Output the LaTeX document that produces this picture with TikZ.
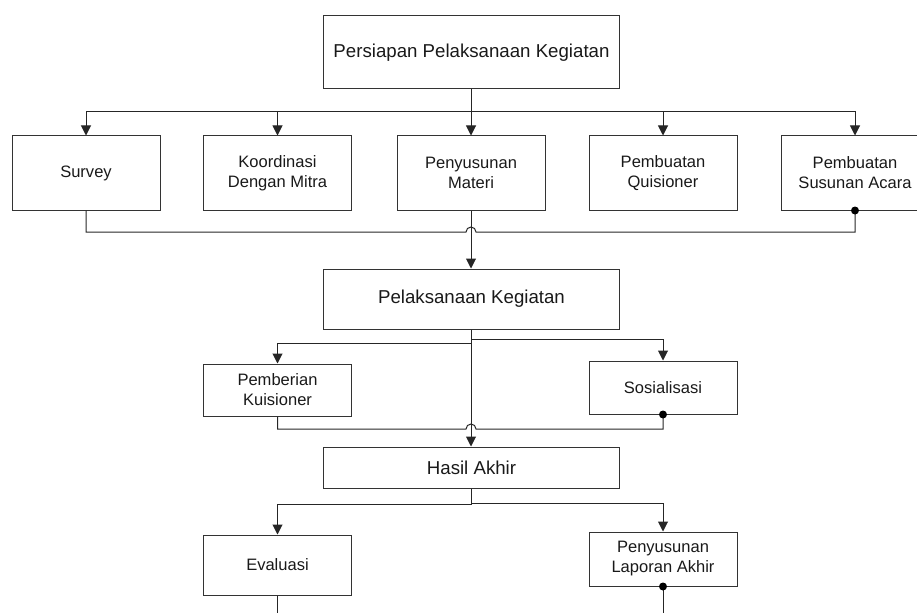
\documentclass[tikz,border=0pt]{standalone}
\usepackage{fontspec}
\setmainfont{Liberation Sans}
\usetikzlibrary{arrows.meta}
\begin{document}
\begin{tikzpicture}[x=0.75pt,y=-0.75pt,
 box/.style={draw=black!80, line width=0.75pt, inner sep=0pt, align=center, text=black!90, font=\fontsize{12.4}{15}\selectfont},
 bigbox/.style={box, font=\fontsize{14}{17}\selectfont, minimum width=222pt},
 smallbox/.style={box, minimum width=111pt},
 conn/.style={draw=black!85, line width=0.75pt},
 arr/.style={conn, -{Triangle[length=7.5pt,width=7.5pt]}},
 hop/.style={conn}]
\useasboundingbox (0,0) rectangle (917,613);
% nodes
\node[bigbox, minimum height=54.75pt] (top) at (471.5,52.5) {Persiapan Pelaksanaan Kegiatan};
\node[smallbox, minimum height=55.5pt] (survey) at (86,173) {Survey};
\node[smallbox, minimum height=55.5pt] (koord) at (277.5,173) {Koordinasi\\Dengan Mitra};
\node[smallbox, minimum height=55.5pt] (materi) at (471,173) {Penyusunan\\Materi};
\node[smallbox, minimum height=55.5pt] (quis) at (663,173) {Pembuatan\\Quisioner};
\node[smallbox, minimum height=55.5pt] (acara) at (855,173) {Pembuatan\\Susunan Acara};
\node[bigbox, minimum height=45pt] (pelak) at (471.5,299) {Pelaksanaan Kegiatan};
\node[smallbox, minimum height=39pt] (pemb) at (277.5,390) {Pemberian\\Kuisioner};
\node[smallbox, minimum height=39.75pt] (sos) at (663,387.5) {Sosialisasi};
\node[bigbox, minimum height=30.75pt] (hasil) at (471.5,467.5) {Hasil Akhir};
\node[smallbox, minimum height=45pt] (eval) at (277.5,565) {Evaluasi};
\node[smallbox, minimum height=40.5pt] (lap) at (663,559) {Penyusunan\\Laporan Akhir};
% junction coordinates
\coordinate (b1) at (471,112);
\coordinate (j1) at (471,232);
\coordinate (b2l) at (471,343);
\coordinate (b2r) at (471,339);
\coordinate (j2) at (471,429);
\coordinate (b3l) at (471,504);
\coordinate (b3r) at (471,503);
\coordinate (e1) at (0,620);
% top distribution
\draw[conn] (top.south -| b1) -- (b1);
\foreach \n in {survey,koord,materi,quis,acara}
  \draw[arr] (b1) -| (\n.north);
% collection 1
\draw[hop] (survey.south) |- ([xshift=-3.75pt]j1) arc[start angle=180,end angle=0,radius=3.75pt] -| (acara.south);
\fill[black] (acara.south) circle[radius=3pt];
\draw[arr] (materi.south) -- (pelak.north -| materi.south);
% pelaksanaan branches
\draw[arr] (pelak.south -| b2l) -- (b2l) -| (pemb.north);
\draw[arr] (b2r) -| (sos.north);
\draw[arr] (pelak.south -| j2) -- (hasil.north -| j2);
% collection 2
\draw[hop] (pemb.south) |- ([xshift=-3.75pt]j2) arc[start angle=180,end angle=0,radius=3.75pt] -| (sos.south);
\fill[black] (sos.south) circle[radius=3pt];
% hasil branches
\draw[arr] (hasil.south -| b3l) -- (b3l) -| (eval.north);
\draw[arr] (b3r) -| (lap.north);
% bottom lines
\draw[conn] (eval.south) -- (eval.south |- e1);
\draw[conn] (lap.south) -- (lap.south |- e1);
\fill[black] (lap.south) circle[radius=3pt];
\end{tikzpicture}
\end{document}
